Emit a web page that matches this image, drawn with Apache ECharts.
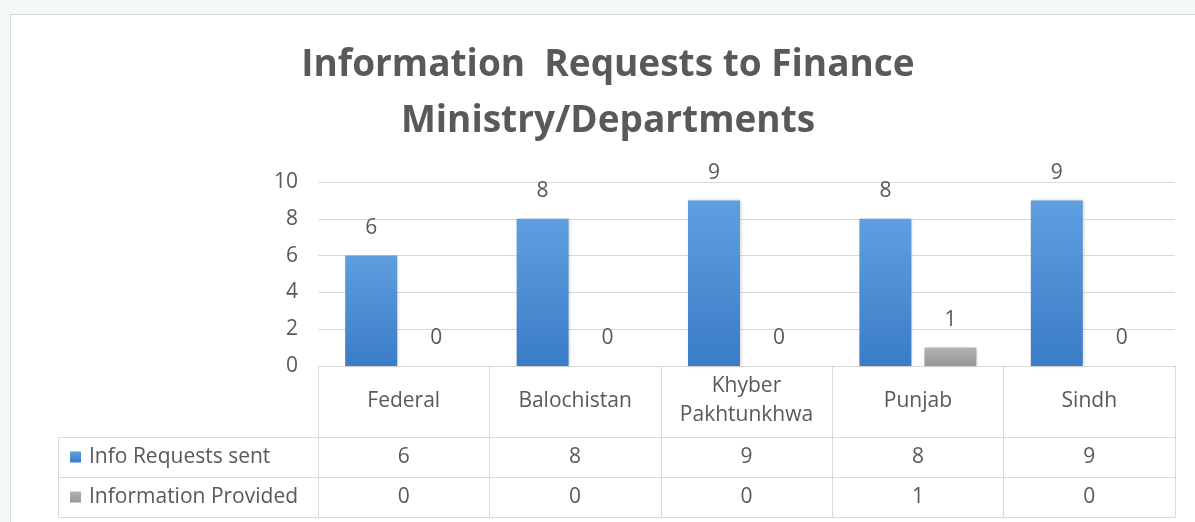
<!DOCTYPE html>
<html>
<head>
<meta charset="utf-8">
<script src="https://cdn.jsdelivr.net/npm/echarts@6/dist/echarts.min.js"></script>
<style>
  html, body { margin:0; padding:0; width:1195px; height:522px; overflow:hidden; background:#f4f7f8; }
  #chart { position:absolute; left:10px; top:14px; width:1184px; height:507px; background:#fff; border:1px solid #d9d9d9; border-right:none; border-bottom:none; }
</style>
</head>
<body>
<div id="chart"></div>
<script>
const regions = ["Federal", "Balochistan", "Khyber\nPakhtunkhwa", "Punjab", "Sindh"];
const requestsSent = [6, 8, 9, 8, 9];
const infoProvided = [0, 0, 0, 1, 0];
const seriesNames = ["Info Requests sent", "Information Provided"];

const FONT = "'Open Sans', 'Noto Sans', sans-serif";
const TXT = "#595959";
const LINE = "#d9d9d9";
const FS = 21;

const chart = echarts.init(document.getElementById("chart"));

function tableAxis(offset, labels, tickLen){
  return {
    type: "category", gridIndex: 0, position: "bottom", offset: offset,
    data: regions,
    axisLine: { show: true, lineStyle: { color: LINE, width: 1 } },
    axisTick: { show: tickLen > 0, length: tickLen, interval: 0, lineStyle: { color: LINE } },
    axisLabel: {
      show: !!labels, interval: 0, margin: 20, verticalAlign: "middle",
      color: TXT, fontFamily: FONT, fontSize: FS,
      formatter: (v, i) => labels ? String(labels[i]) : ""
    },
    splitLine: { show: false }
  };
}

const barBlue = new echarts.graphic.LinearGradient(0, 0, 0, 1, [
  { offset: 0, color: "#5f9fe0" }, { offset: 1, color: "#3a7cc6" }
]);
const barGray = new echarts.graphic.LinearGradient(0, 0, 0, 1, [
  { offset: 0, color: "#b3b3b3" }, { offset: 1, color: "#979797" }
]);

chart.setOption({
  animation: false,
  title: {
    text: "Information  Requests to Finance\nMinistry/Departments",
    left: 592, top: 17, textAlign: "center",
    textStyle: { fontFamily: FONT, fontWeight: "bold", fontSize: 37, lineHeight: 56, color: TXT }
  },
  legend: {
    data: seriesNames, orient: "vertical", left: 54, top: 426,
    icon: "rect", itemWidth: 11, itemHeight: 11, itemGap: 18,
    textStyle: { color: TXT, fontFamily: FONT, fontSize: FS, lineHeight: 22, padding: [0, 0, 0, 3] },
    selectedMode: false
  },
  grid: { left: 307, right: 20, top: 167, bottom: 156, containLabel: false },
  xAxis: [
    {
      type: "category", data: regions, position: "bottom",
      axisLine: { show: true, lineStyle: { color: LINE } },
      axisTick: { show: true, length: 71, interval: 0, lineStyle: { color: LINE } },
      axisLabel: { interval: 0, margin: 35, verticalAlign: "middle", lineHeight: 29,
        color: TXT, fontFamily: FONT, fontSize: FS },
      splitLine: { show: false }
    },
    tableAxis(71, requestsSent, 40),
    tableAxis(111, infoProvided, 40),
    tableAxis(151, null, 0)
  ],
  yAxis: {
    type: "value", min: 0, max: 10, interval: 2,
    axisLine: { show: false }, axisTick: { show: false },
    axisLabel: { color: TXT, fontFamily: FONT, fontSize: FS, margin: 20 },
    splitLine: { lineStyle: { color: LINE } }
  },
  series: [
    {
      name: seriesNames[0], type: "bar", data: requestsSent,
      barWidth: 52, barGap: "25%",
      itemStyle: { color: barBlue, shadowColor: "rgba(0,0,0,0.18)", shadowBlur: 3, shadowOffsetX: 1 },
      label: { show: true, position: "top", distance: 17, color: TXT, fontFamily: FONT, fontSize: FS }
    },
    {
      name: seriesNames[1], type: "bar", data: infoProvided,
      barWidth: 52, barGap: "25%",
      itemStyle: { color: barGray, shadowColor: "rgba(0,0,0,0.18)", shadowBlur: 3, shadowOffsetX: 1 },
      label: { show: true, position: "top", distance: 17, color: TXT, fontFamily: FONT, fontSize: FS }
    }
  ],
  graphic: [
    { type: "line", shape: { x1: 47, y1: 422.5, x2: 307, y2: 422.5 }, style: { stroke: LINE, lineWidth: 1 } },
    { type: "line", shape: { x1: 47, y1: 462.5, x2: 307, y2: 462.5 }, style: { stroke: LINE, lineWidth: 1 } },
    { type: "line", shape: { x1: 47, y1: 502.5, x2: 307, y2: 502.5 }, style: { stroke: LINE, lineWidth: 1 } },
    { type: "line", shape: { x1: 47.5, y1: 422, x2: 47.5, y2: 503 }, style: { stroke: LINE, lineWidth: 1 } }
  ]
});
</script>
</body>
</html>
